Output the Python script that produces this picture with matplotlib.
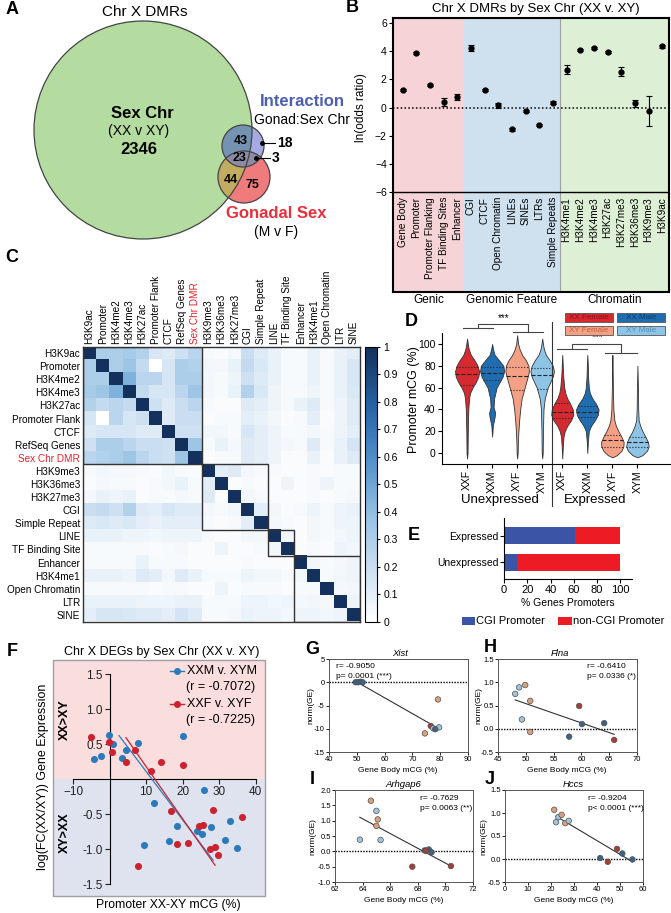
import numpy as np
import matplotlib
matplotlib.use('Agg')
import matplotlib.pyplot as plt
from matplotlib.patches import Circle, Rectangle
from matplotlib.colors import LinearSegmentedColormap

plt.rcParams['font.family'] = ['Liberation Sans', 'DejaVu Sans']

W, H = 671, 913

# ---------------- data ----------------
# A: venn counts
venn_sex_only = 2346
venn_sex_gonad = 44
venn_sex_inter = 43
venn_all = 23
venn_gonad_only = 75
venn_inter_only = 18
venn_inter_gonad = 3

# B: ln(odds ratio)
b_labels = ['Gene Body', 'Promoter', 'Promoter Flanking', 'TF Binding Sites', 'Enhancer',
            'CGI', 'CTCF', 'Open Chromatin', 'LINEs', 'SINEs', 'LTRs', 'Simple Repeats',
            'H3K4me1', 'H3K4me2', 'H3K4me3', 'H3K27ac', 'H3K27me3', 'H3K36me3', 'H3K9me3', 'H3K9ac']
b_vals = [1.25, 3.85, 1.6, 0.4, 0.75, 4.25, 1.25, 0.15, -1.55, -0.25, -1.25, 0.35,
          2.7, 4.1, 4.25, 3.95, 2.55, 0.3, -0.25, 4.35]
b_err = [0.08, 0.08, 0.1, 0.3, 0.2, 0.2, 0.08, 0.15, 0.08, 0.08, 0.08, 0.08,
         0.3, 0.08, 0.08, 0.08, 0.3, 0.25, 1.08, 0.1]
b_groups = ['Genic', 'Genomic Feature', 'Chromatin']

# C: correlation heatmap (lower triangle)
c_labels = ['H3K9ac', 'Promoter', 'H3K4me2', 'H3K4me3', 'H3K27ac', 'Promoter Flank', 'CTCF',
            'RefSeq Genes', 'Sex Chr DMR', 'H3K9me3', 'H3K36me3', 'H3K27me3', 'CGI',
            'Simple Repeat', 'LINE', 'TF Binding Site', 'Enhancer', 'H3K4me1',
            'Open Chromatin', 'LTR', 'SINE']
c_lower = [
    [0.30],
    [0.30, 0.30],
    [0.32, 0.35, 0.45],
    [0.28, 0.22, 0.25, 0.22],
    [0.15, 0.00, 0.25, 0.15, 0.18],
    [0.12, 0.15, 0.15, 0.15, 0.12, 0.12],
    [0.18, 0.30, 0.30, 0.25, 0.20, 0.20, 0.18],
    [0.25, 0.28, 0.30, 0.35, 0.25, 0.20, 0.18, 0.35],
    [0.03, 0.05, 0.04, 0.04, 0.03, 0.02, 0.05, 0.03, 0.02],
    [0.02, 0.04, 0.03, 0.03, 0.02, 0.03, 0.05, 0.08, 0.03, 0.10],
    [0.04, 0.08, 0.06, 0.08, 0.02, 0.03, 0.03, 0.04, 0.03, 0.12, 0.02],
    [0.20, 0.22, 0.18, 0.28, 0.12, 0.10, 0.15, 0.12, 0.12, 0.04, 0.03, 0.05],
    [0.12, 0.14, 0.12, 0.14, 0.10, 0.08, 0.10, 0.10, 0.10, 0.03, 0.02, 0.03, 0.10],
    [0.08, 0.08, 0.08, 0.06, 0.06, 0.05, 0.06, 0.06, 0.06, 0.03, 0.02, 0.02, 0.05, 0.04],
    [0.03, 0.03, 0.03, 0.03, 0.03, 0.02, 0.03, 0.04, 0.02, 0.02, 0.06, 0.02, 0.02, 0.03, 0.05],
    [0.03, 0.03, 0.03, 0.03, 0.08, 0.03, 0.03, 0.03, 0.02, 0.02, 0.02, 0.02, 0.03, 0.02, 0.02, 0.02],
    [0.08, 0.08, 0.08, 0.06, 0.12, 0.10, 0.05, 0.12, 0.08, 0.03, 0.03, 0.03, 0.06, 0.05, 0.05, 0.03, 0.05],
    [0.03, 0.03, 0.03, 0.03, 0.03, 0.02, 0.03, 0.03, 0.02, 0.02, 0.06, 0.02, 0.03, 0.03, 0.03, 0.02, 0.03, 0.03],
    [0.08, 0.08, 0.08, 0.08, 0.06, 0.06, 0.06, 0.08, 0.08, 0.03, 0.03, 0.03, 0.06, 0.06, 0.05, 0.06, 0.04, 0.05, 0.04],
    [0.10, 0.15, 0.15, 0.14, 0.12, 0.12, 0.10, 0.16, 0.12, 0.03, 0.03, 0.04, 0.08, 0.06, 0.06, 0.05, 0.06, 0.06, 0.05, 0.06],
]
c_blocks = [(0, 9), (9, 5), (14, 2), (16, 5)]

# D: violin profiles (y, half width)
d_names = ['XXF', 'XXM', 'XYF', 'XYM', 'XXF', 'XXM', 'XYF', 'XYM']
d_pos = [0, 1, 2, 3, 3.8, 4.8, 5.8, 6.8]
d_prof_y = [
    [-5, 0, 20, 40, 50, 55, 60, 65, 70, 75, 80, 85, 90, 95, 100, 105],
    [15, 25, 33, 37, 42, 50, 60, 65, 70, 75, 80, 85, 90, 95, 100],
    [-5, 0, 10, 20, 30, 40, 50, 60, 70, 75, 80, 85, 90, 95, 100, 108],
    [-5, 0, 20, 40, 50, 60, 65, 70, 75, 80, 85, 90, 95, 100, 105],
    [-5, 5, 15, 20, 25, 30, 35, 40, 45, 50, 55, 60, 70, 80, 90],
    [0, 10, 20, 25, 30, 35, 40, 45, 50, 55, 60, 70, 80, 90],
    [-4, -2, 2, 6, 10, 15, 20, 25, 30, 40, 60, 80, 90],
    [-4, -2, 2, 6, 10, 15, 20, 25, 30, 40, 60, 80],
]
d_prof_w = [
    [0, 0.02, 0.03, 0.05, 0.08, 0.12, 0.22, 0.35, 0.45, 0.48, 0.42, 0.30, 0.15, 0.07, 0.03, 0],
    [0, 0.03, 0.10, 0.12, 0.06, 0.08, 0.18, 0.30, 0.42, 0.48, 0.45, 0.28, 0.10, 0.04, 0],
    [0, 0.02, 0.03, 0.05, 0.08, 0.12, 0.18, 0.30, 0.42, 0.47, 0.45, 0.35, 0.20, 0.10, 0.04, 0],
    [0, 0.02, 0.03, 0.05, 0.10, 0.22, 0.32, 0.42, 0.47, 0.42, 0.30, 0.15, 0.07, 0.03, 0],
    [0, 0.02, 0.05, 0.10, 0.20, 0.35, 0.44, 0.42, 0.32, 0.20, 0.12, 0.08, 0.04, 0.02, 0],
    [0, 0.02, 0.06, 0.15, 0.30, 0.42, 0.45, 0.35, 0.20, 0.10, 0.06, 0.03, 0.02, 0],
    [0, 0.18, 0.36, 0.44, 0.45, 0.36, 0.24, 0.14, 0.08, 0.04, 0.02, 0.01, 0],
    [0, 0.20, 0.38, 0.45, 0.42, 0.32, 0.20, 0.11, 0.05, 0.03, 0.02, 0],
]
d_quart = [[62, 72.5, 79], [67, 73.4, 79], [58, 71, 79], [58.6, 71.5, 77.7],
           [31.8, 37.9, 46], [32.6, 38, 43], [5.8, 12, 16.5], [5.8, 10.4, 15]]
d_colors = ['#d42a30', '#1f6db0', '#f4a084', '#8ec4e6']
d_legend = ['XX Female', 'XX Male', 'XY Female', 'XY Male']

# E: % gene promoters
e_cats = ['Unexpressed', 'Expressed']
e_cgi = [11, 61]
e_noncgi = [89, 39]

# F: DEGs
f_blue_x = [-4.4, -2.4, -0.05, 0.9, 3.3, 4.5, 7.9, 20.0, 25.9, 12.3, 18.5, 32.9, 9.5, 16.4,
            23.9, 25.3, 27.8, 31.7, 34.8]
f_blue_y = [0.28, 0.33, 0.63, 0.50, 0.30, 0.42, 0.52, 0.62, -0.16, -0.34, -0.67, -0.60, -0.94,
            -0.89, -0.74, -0.78, -0.68, -0.87, -0.99]
f_red_x = [-5.2, -0.2, 0.6, 4.5, 7.0, 11.3, 14.1, 20.0, 16.8, 28.3, 36.3, 7.7, 18.6, 21.4,
           24.4, 25.7, 27.4, 28.9, 29.8]
f_red_y = [0.60, 0.53, 0.38, 0.24, 0.42, 0.12, 0.25, 0.20, -0.45, -0.44, -0.54, -1.24, -0.93,
           -0.92, -0.67, -0.65, -1.00, -0.97, -1.09]
f_blue_fit = ([2.6, 28.4], [0.62, -1.16])
f_red_fit = ([4.5, 28.9], [0.59, -1.23])

# G-J: per-gene scatter
grp_colors = {'XXF': '#a23f36', 'XXM': '#3d6284', 'XYF': '#d9a07d', 'XYM': '#a0c4dd'}
g_x = [49.6, 50.5, 51.4, 52.1, 79.2, 76.6, 74.5, 77.5, 79.6, 78.2]
g_y = [0.0, 0.0, 0.1, 0.0, -3.7, -9.4, -11.0, -9.9, -9.7, -10.1]
g_g = ['XXM', 'XXM', 'XXM', 'XXM', 'XYF', 'XXF', 'XYF', 'XYM', 'XYM', 'XXM']
g_fit = ([50.2, 77.5], [0.0, -9.3])
h_x = [48.1, 48.8, 49.9, 50.8, 49.3, 50.8, 59.6, 60.1, 57.8, 64.1, 65.9]
h_y = [0.75, 0.89, 0.94, 0.60, 0.20, -0.07, 0.49, 0.10, -0.17, 0.12, -0.24]
h_g = ['XYM', 'XYM', 'XYF', 'XYF', 'XYM', 'XYF', 'XXF', 'XXM', 'XXM', 'XXM', 'XXF']
h_fit = ([48.1, 65.9], [0.62, -0.12])
i_x = [64.6, 65.0, 65.1, 65.0, 63.8, 65.3, 68.5, 68.8, 69.0, 68.6, 67.6, 70.4]
i_y = [1.65, 1.32, 1.04, 0.83, 0.38, 0.37, 0.03, 0.06, -0.03, 0.02, -0.50, -0.48]
i_g = ['XYF', 'XYM', 'XYF', 'XYF', 'XYM', 'XYM', 'XXM', 'XXM', 'XXM', 'XXF', 'XXF', 'XXF']
i_fit = ([63.8, 70.4], [1.11, -0.48])
j_x = [21.4, 22.2, 23.2, 24.6, 26.2, 27.7, 41.4, 44.7, 48.7, 51.0, 55.4]
j_y = [1.07, 0.80, 0.91, 0.96, 0.78, 0.83, 0.02, -0.06, 0.22, 0.12, -0.01]
j_g = ['XYF', 'XYM', 'XYM', 'XYF', 'XYF', 'XYM', 'XXM', 'XXF', 'XXF', 'XXM', 'XXM']
j_fit = ([22.2, 55.4], [0.93, -0.06])


def rect(l, t, r, b):
    return [l / W, 1 - b / H, (r - l) / W, (b - t) / H]


fig = plt.figure(figsize=(W / 100, H / 100), dpi=100)

# ---------------- B ----------------
axb = fig.add_axes(rect(393, 18, 669, 292))
bounds = [-0.7, 4.5, 11.5, 19.5]
for i, c in enumerate(['#f5d3d6', '#cfe1ef', '#ddefd5']):
    axb.axvspan(bounds[i], bounds[i + 1], color=c, lw=0, zorder=0)
axb.axvline(11.5, color='#a0a0a0', lw=0.8, zorder=0.5)
axb.axhline(-6, color='k', lw=1.0)
axb.plot([bounds[0], bounds[-1]], [0, 0], ls=(0, (1, 1.5)), color='k', lw=1.1)
xb = np.arange(len(b_labels))
axb.errorbar(xb, b_vals, yerr=b_err, fmt='o', color='k', ms=3.5, capsize=2,
             elinewidth=0.8, capthick=0.8)
axb.set_xlim(bounds[0], bounds[-1])
axb.set_ylim(-13.1, 6.36)
axb.set_xticks([])
axb.set_yticks(range(-6, 7, 2))
axb.tick_params(axis='y', labelsize=7.5, length=3, pad=1.5)
for s in axb.spines.values():
    s.set_linewidth(1.5)
for i, lab in enumerate(b_labels):
    axb.text(i, -6.35, lab, rotation=90, ha='center', va='top', fontsize=7.2)
for i, g in enumerate(b_groups):
    axb.text((bounds[i] + bounds[i + 1]) / 2, -0.03, g, transform=axb.get_xaxis_transform(),
             ha='center', va='center', fontsize=8.5)
axb.set_ylabel('ln(odds ratio)', fontsize=8.5)
axb.yaxis.set_label_coords(-0.095, 0.673)

# ---------------- C ----------------
n = len(c_labels)
mat = np.eye(n)
for i, row in enumerate(c_lower, start=1):
    mat[i, :i] = row
    mat[:i, i] = row
cmap = LinearSegmentedColormap.from_list('hm', [(0, '#ffffff'), (0.1, '#e3eef8'), (0.2, '#c9def1'),
                                                (0.4, '#8fbee2'), (0.6, '#4d8dc8'),
                                                (0.8, '#24609f'), (1, '#14305c')])
axc = fig.add_axes(rect(83, 346.5, 360, 621.5))
im = axc.imshow(mat, cmap=cmap, vmin=0, vmax=1, aspect='auto', interpolation='nearest')
axc.set_xticks(range(n))
axc.set_xticklabels(c_labels, rotation=90, fontsize=7.2)
axc.xaxis.tick_top()
axc.set_yticks(range(n))
axc.set_yticklabels(c_labels, fontsize=7.2)
axc.tick_params(length=0, pad=2)
for t in axc.get_xticklabels() + axc.get_yticklabels():
    if t.get_text() == 'Sex Chr DMR':
        t.set_color('#e8202a')
for s0, sz in c_blocks:
    axc.add_patch(Rectangle((s0 - 0.5, s0 - 0.5), sz, sz, fill=False, ec='#333333', lw=1.0))
for s in axc.spines.values():
    s.set_linewidth(1.0)
    s.set_color('#333333')
cax = fig.add_axes(rect(365, 346.5, 377, 621.5))
cb = fig.colorbar(im, cax=cax, ticks=np.round(np.arange(0, 1.01, 0.1), 1))
cb.ax.set_yticklabels([f'{v:g}' for v in np.round(np.arange(0, 1.01, 0.1), 1)])
cb.ax.tick_params(labelsize=7.5, length=2.5, pad=2)
cb.outline.set_linewidth(0.8)

# ---------------- D ----------------
axd = fig.add_axes(rect(442, 333, 670, 464))
for i in range(len(d_names)):
    y = np.array(d_prof_y[i])
    w = np.array(d_prof_w[i])
    p = d_pos[i]
    axd.fill_betweenx(y, p - w, p + w, facecolor=d_colors[i % 4], edgecolor='#333333', lw=0.6)
    for q, ls in zip(d_quart[i], [':', '--', ':']):
        hw = np.interp(q, y, w)
        axd.plot([p - hw, p + hw], [q, q], color='#222222', lw=0.8, ls=ls)
axd.set_xlim(-1.0, 8.1)
axd.set_ylim(-10.1, 110.1)
axd.set_yticks(range(0, 101, 20))
axd.set_xticks(d_pos)
axd.set_xticklabels(d_names, rotation=90, fontsize=8)
axd.tick_params(labelsize=7.5, length=3, pad=1.5)
axd.spines['top'].set_visible(False)
axd.spines['right'].set_visible(False)
axd.plot([3.4, 3.4], [120, -49], color='#333333', lw=0.8, clip_on=False)
# significance brackets
br = dict(color='#444444', lw=0.8, clip_on=False)
axd.plot([-0.15, 1.05], [114.7, 114.7], **br)
axd.plot([0.45, 0.45, 2.45, 2.45], [114.7, 118, 118, 111], **br)
axd.plot([1.85, 3.05], [111, 111], **br)
axd.text(1.45, 119.5, '***', ha='center', va='bottom', fontsize=7, clip_on=False)
axd.plot([3.6, 4.8], [95.4, 95.4], **br)
axd.plot([4.2, 4.2, 6.16, 6.16], [95.4, 100, 100, 91.7], **br)
axd.plot([5.52, 6.8], [91.7, 91.7], **br)
axd.text(5.2, 101.5, '***', ha='center', va='bottom', fontsize=7)

# ---------------- E ----------------
axe = fig.add_axes(rect(504, 518, 632, 579))
ye = np.arange(len(e_cats))
axe.barh(ye, e_cgi, height=0.64, color='#3b54a5')
axe.barh(ye, e_noncgi, left=e_cgi, height=0.64, color='#ed1c24')
axe.set_xlim(0, 110)
axe.set_ylim(-0.64, 1.66)
axe.set_yticks(ye)
axe.set_yticklabels(e_cats, fontsize=7.5)
axe.set_xticks(range(0, 101, 20))
axe.tick_params(axis='x', labelsize=8, length=3, pad=1.5)
axe.tick_params(axis='y', length=3, pad=1)
axe.spines['top'].set_visible(False)
axe.spines['right'].set_visible(False)
axe.set_xlabel('% Genes Promoters', fontsize=7.5, labelpad=2)

# ---------------- F ----------------
fblue, fred = '#2b7bba', '#cc2230'
axf = fig.add_axes(rect(53, 660, 265, 896))
axf.set_xlim(-15.5, 42.6)
axf.set_ylim(-1.67, 1.70)
axf.axhspan(0, 1.70, color='#fadddd', lw=0, zorder=0)
axf.axhspan(-1.67, 0, color='#dfe3f0', lw=0, zorder=0)
axf.spines['top'].set_visible(False)
axf.spines['right'].set_visible(False)
axf.spines['left'].set_position(('data', 0))
axf.spines['left'].set_bounds(-1.5, 1.5)
axf.spines['bottom'].set_position(('data', 0))
axf.spines['bottom'].set_bounds(-10, 40)
axf.set_xticks([-10, 10, 20, 30, 40])
axf.set_yticks([-1.5, -1.0, -0.5, 0.5, 1.0, 1.5])
axf.set_yticklabels(['-1.5', '-1.0', '-0.5', '0.5', '1.0', '1.5'])
axf.tick_params(labelsize=8.5, length=3.5, pad=1.5, colors='#222222')
axf.add_patch(Rectangle((0, 0), 1, 1, transform=axf.transAxes, fill=False, ec='#a0a0a0',
                        lw=1.0, clip_on=False))
axf.plot(*f_blue_fit, color=fblue, lw=0.9, zorder=3)
axf.plot(*f_red_fit, color=fred, lw=0.9, zorder=3)
axf.scatter(f_blue_x, f_blue_y, s=26, color=fblue, zorder=4, lw=0)
axf.scatter(f_red_x, f_red_y, s=26, color=fred, zorder=4, lw=0)


# ---------------- G-J ----------------
def gene_panel(box, xs, ys, gs, fit, xlim, ylim, xticks, yticks, yfmt):
    ax = fig.add_axes(rect(*box))
    ax.axhline(0, color='k', lw=1.0, ls=(0, (1, 1)), zorder=1)
    ax.plot(*fit, color='#333333', lw=0.8, zorder=2)
    ax.scatter(xs, ys, s=16, c=[grp_colors[g] for g in gs], edgecolors='#505050',
               linewidths=0.5, zorder=3)
    ax.set_xlim(*xlim)
    ax.set_ylim(*ylim)
    ax.set_xticks(xticks)
    ax.set_yticks(yticks)
    ax.set_yticklabels([yfmt.format(v) for v in yticks])
    ax.tick_params(labelsize=5.5, length=2, pad=1, width=0.6)
    for s in ax.spines.values():
        s.set_linewidth(0.7)
        s.set_color('#555555')
    return ax


gene_panel((329, 659, 468, 752), g_x, g_y, g_g, g_fit, (40, 90), (-15, 5),
           range(40, 91, 10), [5, 0, -5, -10, -15], '{:g}')
gene_panel((498, 659, 637, 752), h_x, h_y, h_g, h_fit, (45, 70), (-0.5, 1.5),
           range(45, 71, 5), [1.5, 1.0, 0.5, 0.0, -0.5], '{:.1f}')
gene_panel((335, 790, 473, 882), i_x, i_y, i_g, i_fit, (62, 72), (-1.0, 2.0),
           range(62, 73, 2), [2.0, 1.5, 1.0, 0.5, 0.0, -0.5, -1.0], '{:.1f}')
gene_panel((505, 790, 643, 882), j_x, j_y, j_g, j_fit, (0, 60), (-0.5, 1.5),
           range(0, 61, 10), [1.5, 1.0, 0.5, 0.0, -0.5], '{:.1f}')

# ---------------- overlay: venn, labels, legends ----------------
ov = fig.add_axes([0, 0, 1, 1])
ov.set_xlim(0, W)
ov.set_ylim(H, 0)
ov.axis('off')
ov.patch.set_visible(False)

# venn
cg = (143, 130, 109)
cr = (244, 177, 26)
cbl = (243, 146, 21)
green = Circle(cg[:2], cg[2], fc='#b4dca0', ec='none')
ov.add_patch(green)
red = Circle(cr[:2], cr[2], fc='#f07b7d', ec='none')
ov.add_patch(red)
red_in = Circle(cr[:2], cr[2], fc='#c2ac62', ec='none')
ov.add_patch(red_in)
red_in.set_clip_path(green)
blue = Circle(cbl[:2], cbl[2], fc='#a6aae2', ec='none')
ov.add_patch(blue)
blue_in = Circle(cbl[:2], cbl[2], fc='#7493b2', ec='none')
ov.add_patch(blue_in)
blue_in.set_clip_path(green)
blue_red = Circle(cbl[:2], cbl[2], fc='#8d8aa5', ec='none')
ov.add_patch(blue_red)
blue_red.set_clip_path(red)
for c in (cg, cr, cbl):
    ov.add_patch(Circle(c[:2], c[2], fill=False, ec='#444444', lw=0.9))

ov.text(145, 12, 'Chr X DMRs', ha='center', va='center', fontsize=11)
ov.text(142, 113, 'Sex Chr', ha='center', va='center', fontsize=12, fontweight='bold')
ov.text(139, 131, '(XX v XY)', ha='center', va='center', fontsize=10)
ov.text(139, 150, str(venn_sex_only), ha='center', va='center', fontsize=12, fontweight='bold')
ov.text(241, 141, str(venn_sex_inter), ha='center', va='center', fontsize=9, fontweight='bold')
ov.text(240, 158, str(venn_all), ha='center', va='center', fontsize=9, fontweight='bold')
ov.text(231, 180, str(venn_sex_gonad), ha='center', va='center', fontsize=9, fontweight='bold')
ov.text(252, 185, str(venn_gonad_only), ha='center', va='center', fontsize=9, fontweight='bold')
ov.plot([262, 275], [143, 143], color='k', lw=0.8)
ov.plot([262], [143], 'o', color='k', ms=2.5)
ov.text(277, 143, str(venn_inter_only), ha='left', va='center', fontsize=10, fontweight='bold')
ov.plot([256, 270], [158, 158], color='k', lw=0.8)
ov.plot([256], [158], 'o', color='k', ms=2.5)
ov.text(272, 158, str(venn_inter_gonad), ha='left', va='center', fontsize=10, fontweight='bold')
ov.text(302, 102, 'Interaction', ha='center', va='center', fontsize=12, fontweight='bold',
        color='#4c5fb0')
ov.text(302, 120, 'Gonad:Sex Chr', ha='center', va='center', fontsize=10)
ov.text(276, 213, 'Gonadal Sex', ha='center', va='center', fontsize=12, fontweight='bold',
        color='#e8303a')
ov.text(276, 232, '(M v F)', ha='center', va='center', fontsize=10)

# B title
ov.text(536, 9, 'Chr X DMRs by Sex Chr (XX v. XY)', ha='center', va='center', fontsize=9.5)

# D legend and labels
d_leg_box = [(565, 313), (617, 313), (565, 326), (617, 326)]
d_leg_txt = ['#8e1217', '#0d3d6c', '#c2603f', '#4d8cb5']
for (x0, y0), c, tc, lab in zip(d_leg_box, d_colors, d_leg_txt, d_legend):
    ov.add_patch(Rectangle((x0, y0), 48, 9, fc=c, ec='#555555', lw=0.6))
    ov.text(x0 + 24, y0 + 4.7, lab, ha='center', va='center', fontsize=5.8, color=tc)
ov.text(414, 400, 'Promoter mCG (%)', rotation=90, ha='center', va='center', fontsize=9)
ov.text(500, 500, 'Unexpressed', ha='center', va='center', fontsize=9.5)
ov.text(595, 500, 'Expressed', ha='center', va='center', fontsize=9.5)

# E legend
ov.add_patch(Rectangle((462, 617), 13, 8, fc='#3b54a5', ec='none'))
ov.text(476, 621, 'CGI Promoter', ha='left', va='center', fontsize=8)
ov.add_patch(Rectangle((558, 617), 14, 8, fc='#ed1c24', ec='none'))
ov.text(573, 621, 'non-CGI Promoter', ha='left', va='center', fontsize=8)

# F labels and legend
ov.text(162, 652, 'Chr X DEGs by Sex Chr (XX v. XY)', ha='center', va='center', fontsize=9)
ov.text(43, 777, 'log(FC(XX/XY)) Gene Expression', rotation=90, ha='center', va='center',
        fontsize=9)
ov.text(65, 720, 'XX>XY', rotation=90, ha='center', va='center', fontsize=9, fontweight='bold')
ov.text(65, 833, 'XY>XX', rotation=90, ha='center', va='center', fontsize=9, fontweight='bold')
ov.text(168, 905, 'Promoter XX-XY mCG (%)', ha='center', va='center', fontsize=8.8)
for yy, c, lab, rl in [(671, fblue, 'XXM v. XYM', '(r = -0.7072)'),
                       (704, fred, 'XXF v. XYF', '(r = -0.7225)')]:
    ov.plot([170, 184], [yy, yy], color=c, lw=1.0)
    ov.plot([177], [yy], 'o', color=c, ms=4)
    ov.text(187, yy, lab, ha='left', va='center', fontsize=9)
    ov.text(186, yy + 16, rl, ha='left', va='center', fontsize=9)

# G-J texts
gj_text = [
    (400, 'Xist', 336, 'r= -0.9050', 'p= 0.0001 (***)', 659, 311, 770, 398),
    (560, 'Flna', 587, 'r= -0.6410', 'p= 0.0336 (*)', 659, 479, 770, 567),
    (403, 'Arhgap6', 420, 'r= -0.7629', 'p= 0.0063 (**)', 790, 313, 900, 404),
    (573, 'Hccs', 588, 'r= -0.9204', 'p< 0.0001 (***)', 790, 484, 900, 574),
]
for tx, title, rx, rt, pt, top, ylx, xly, xlx in gj_text:
    ov.text(tx, top - 1, title, ha='center', va='bottom', fontsize=6.8, style='italic')
    ov.text(rx, top + 8, rt, ha='left', va='center', fontsize=6)
    ov.text(rx, top + 18, pt, ha='left', va='center', fontsize=6)
    ov.text(ylx, (top + top + 93) / 2, 'norm(GE)', rotation=90, ha='center', va='center',
            fontsize=6)
    ov.text(xlx, xly, 'Gene Body mCG (%)', ha='center', va='center', fontsize=6)

# panel letters
for lab, x, y in [('A', 12, 10), ('B', 352, 8), ('C', 12, 258), ('D', 411, 321),
                  ('E', 414, 536), ('F', 12, 651), ('G', 312, 649), ('H', 490, 647),
                  ('I', 312, 780), ('J', 490, 780)]:
    ov.text(x, y, lab, ha='center', va='center', fontsize=13, fontweight='bold')

fig.savefig('out.png', dpi=100)
